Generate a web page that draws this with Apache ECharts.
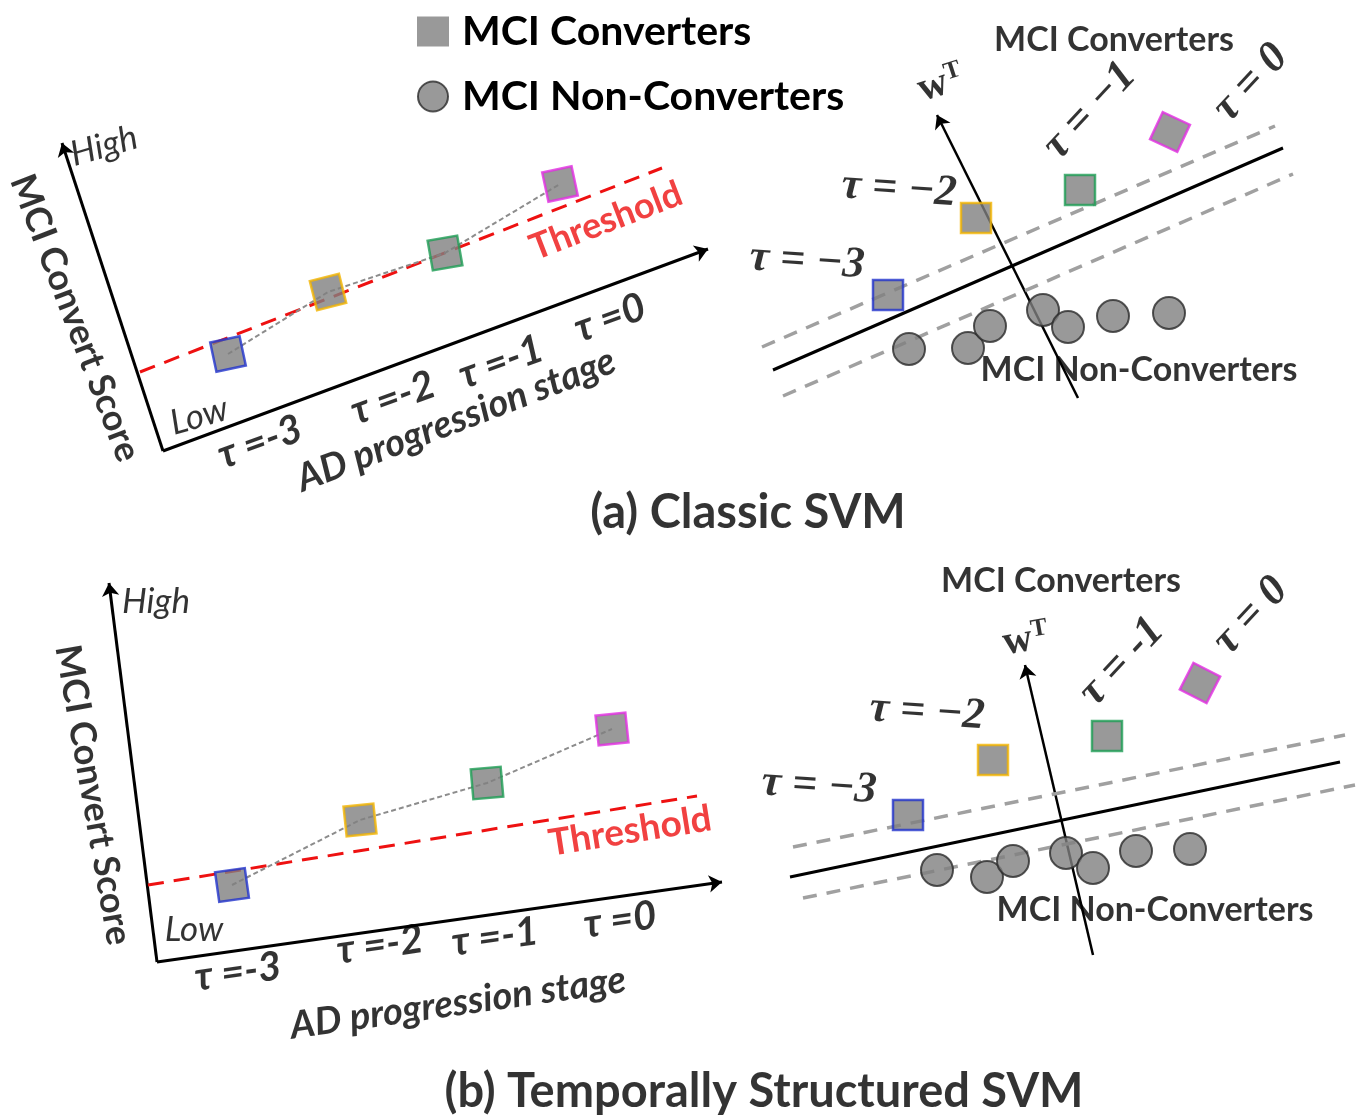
<!DOCTYPE html>
<html><head><meta charset="utf-8">
<script src="https://cdn.jsdelivr.net/npm/echarts@6/dist/echarts.min.js"></script>
<style>html,body{margin:0;padding:0;background:#fff}#c{width:1363px;height:1119px}</style>
</head><body><div id="c"></div>
<script>
// ---------- DATA (diagram units) ----------
const squareColors = ['#2233cc', '#f2b400', '#1e9e55', '#e22ee2'];
const stageLabels = ['τ =-3', 'τ =-2', 'τ =-1', 'τ =0'];
const svmTauA = ['τ = −3', 'τ = −2', 'τ = −1', 'τ = 0'];
const svmTauB = ['τ = −3', 'τ = −2', 'τ = -1', 'τ = 0'];

// (a) Classic SVM - score plot
const aYAxis = [[163, 451], [62, 143]];
const aXAxis = [[163, 451], [708, 249]];
const aThreshold = [[140, 372], [662, 168]];
const aScores = [[228, 354], [328, 292], [445, 253], [560, 184]];
const aStagePos = [[260, 442], [393, 398], [501, 362], [610, 318]];
// (a) Classic SVM - feature space
const aWAxis = [[1078, 398], [937, 115]];
const aHyper = [[773, 370], [1283, 148]];
const aMarginUp = [[762, 347], [1275, 126]];
const aMarginLow = [[783, 396], [1293, 174]];
const aConv = [[888, 295], [976, 218], [1080, 190], [1170, 132]];
const aNonConv = [[909, 349], [968, 348], [990, 326], [1043, 310], [1068, 327], [1113, 316], [1169, 313]];
const aTauPos = [[807, 262], [899, 190], [1090, 111], [1251, 83]];

// (b) Temporally Structured SVM - score plot
const bYAxis = [[157, 962], [109, 583]];
const bXAxis = [[157, 962], [722, 882]];
const bThreshold = [[148, 885], [697, 796]];
const bScores = [[232, 885], [360, 820], [487, 783], [612, 729]];
const bStagePos = [[238, 972], [380, 945], [495, 937], [620, 920]];
// (b) feature space
const bWAxis = [[1093, 955], [1025, 665]];
const bHyper = [[790, 877], [1340, 762]];
const bMarginUp = [[793, 847], [1345, 735]];
const bMarginLow = [[803, 898], [1355, 785]];
const bConv = [[908, 815], [993, 760], [1107, 736], [1200, 683]];
const bNonConv = [[937, 870], [987, 877], [1013, 861], [1066, 853], [1093, 868], [1136, 851], [1190, 849]];
const bTauPos = [[819, 787], [927, 713], [1122, 662], [1251, 616]];

// ---------- BUILD ----------
const SANS = 'Lato';
const SERIF = 'Liberation Serif';
const GRAY = '#7f7f7f';
const RED = '#ee1111';
const series = [];

function seg(coords, style, arrow) {
  series.push({
    type: 'lines', coordinateSystem: 'cartesian2d', silent: true, z: 2,
    data: [{ coords: coords }],
    lineStyle: Object.assign({ color: '#000', width: 3, opacity: 1 }, style),
    symbol: arrow ? ['none', 'arrow'] : ['none', 'none'],
    symbolSize: arrow ? 13 : 0
  });
}
function texts(items) {
  series.push({
    type: 'scatter', silent: true, z: 6, symbolSize: 1,
    itemStyle: { color: 'rgba(0,0,0,0)' },
    data: items.map(t => ({
      value: t.p,
      label: Object.assign({
        show: true, position: 'inside', formatter: t.s, color: '#000',
        fontFamily: SANS, fontSize: 32, fontWeight: 'bold', align: 'center', verticalAlign: 'middle'
      }, t.o || {})
    }))
  });
}
function squares(pts, size, rots) {
  series.push({
    name: 'MCI Converters', type: 'scatter', symbol: 'rect', symbolSize: size, z: 5,
    itemStyle: { color: GRAY },
    data: pts.map((p, i) => ({
      value: p, symbolRotate: rots[i],
      itemStyle: { borderColor: squareColors[i], borderWidth: 2.5 }
    }))
  });
}
function circles(pts) {
  series.push({
    name: 'MCI Non-Converters', type: 'scatter', symbol: 'circle', symbolSize: 32, z: 5,
    itemStyle: { color: GRAY, borderColor: '#2a2a2a', borderWidth: 2 },
    data: pts
  });
}
function trend(pts) {
  series.push({
    type: 'line', data: pts, symbol: 'none', silent: true, z: 4,
    lineStyle: { color: '#8c8c8c', width: 2, type: [5, 3] }
  });
}
const wLabel = (rot) => ({
  rotate: rot,
  rich: {
    w: { fontFamily: SERIF, fontWeight: 'bold', fontSize: 41, color: '#000' },
    t: { fontFamily: SERIF, fontWeight: 'bold', fontSize: 25, color: '#000', verticalAlign: 'top', padding: [0, 0, 17, 0] }
  }
});
const serifTau = (rot) => ({ fontFamily: SERIF, fontStyle: 'italic', fontWeight: 'bold', fontSize: 44, rotate: rot });

// panel a-left
seg(aYAxis, {}, true);
seg(aXAxis, {}, true);
seg(aThreshold, { color: RED, width: 3, type: [16, 10] });
trend(aScores);
squares(aScores, 30, [12, 14, 10, 12]);
texts([
  { p: [104, 146], s: 'High', o: { fontStyle: 'italic', fontWeight: 'normal', fontSize: 35, rotate: 16 } },
  { p: [199, 416], s: 'Low', o: { fontStyle: 'italic', fontWeight: 'normal', fontSize: 35, rotate: 16 } },
  { p: [75, 318], s: 'MCI Convert Score', o: { fontSize: 36, rotate: -69 } },
  { p: [456, 420], s: 'AD progression stage', o: { fontStyle: 'italic', fontSize: 38, rotate: 21 } },
  { p: [606, 221], s: 'Threshold', o: { color: RED, fontSize: 36, rotate: 21 } }
].concat(stageLabels.map((s, i) => ({ p: aStagePos[i], s: s, o: { fontStyle: 'italic', fontSize: 40, rotate: 20 } }))));

// panel a-right
seg(aWAxis, { width: 2.5 }, true);
seg(aHyper, { width: 3 });
seg(aMarginUp, { color: '#a0a0a0', width: 3.5, type: [14, 10] });
seg(aMarginLow, { color: '#a0a0a0', width: 3.5, type: [14, 10] });
squares(aConv, 30, [0, 0, 0, -25]);
circles(aNonConv);
texts([
  { p: [1114, 40], s: 'MCI Converters', o: { fontSize: 34 } },
  { p: [1139, 370], s: 'MCI Non-Converters', o: { fontSize: 34 } },
  { p: [941, 84], s: '{w|w}{t|T}', o: wLabel(18) }
].concat(svmTauA.map((s, i) => ({ p: aTauPos[i], s: s, o: serifTau(i < 2 ? -4 : 47) }))));

// panel b-left
seg(bYAxis, {}, true);
seg(bXAxis, {}, true);
seg(bThreshold, { color: RED, width: 3, type: [16, 10] });
trend(bScores);
squares(bScores, 30, [8, 6, 5, 6]);
texts([
  { p: [156, 602], s: 'High', o: { fontStyle: 'italic', fontWeight: 'normal', fontSize: 35 } },
  { p: [194, 930], s: 'Low', o: { fontStyle: 'italic', fontWeight: 'normal', fontSize: 35 } },
  { p: [93, 795], s: 'MCI Convert Score', o: { fontSize: 36, rotate: -80 } },
  { p: [458, 1003], s: 'AD progression stage', o: { fontStyle: 'italic', fontSize: 38, rotate: 8 } },
  { p: [630, 831], s: 'Threshold', o: { color: RED, fontSize: 37, rotate: 9 } }
].concat(stageLabels.map((s, i) => ({ p: bStagePos[i], s: s, o: { fontStyle: 'italic', fontSize: 40, rotate: 8 } }))));

// panel b-right
seg(bWAxis, { width: 2.5 }, true);
seg(bHyper, { width: 3 });
seg(bMarginUp, { color: '#a0a0a0', width: 3.5, type: [14, 10] });
seg(bMarginLow, { color: '#a0a0a0', width: 3.5, type: [14, 10] });
squares(bConv, 30, [0, 0, 0, -27]);
circles(bNonConv);
texts([
  { p: [1061, 581], s: 'MCI Converters', o: { fontSize: 34 } },
  { p: [1155, 910], s: 'MCI Non-Converters', o: { fontSize: 34 } },
  { p: [1026, 640], s: '{w|w}{t|T}', o: wLabel(10) }
].concat(svmTauB.map((s, i) => ({ p: bTauPos[i], s: s, o: serifTau(i < 2 ? -4 : 47) }))));

// captions
texts([
  { p: [748, 513], s: '(a) Classic SVM', o: { fontSize: 47 } },
  { p: [764, 1092], s: '(b) Temporally Structured SVM', o: { fontSize: 47 } }
]);

const chart = echarts.init(document.getElementById('c'), null, { renderer: 'canvas' });
chart.setOption({
  animation: false,
  backgroundColor: '#fff',
  grid: { left: 0, right: 0, top: 0, bottom: 0 },
  xAxis: { type: 'value', min: 0, max: 1363, show: false },
  yAxis: { type: 'value', min: 0, max: 1119, inverse: true, show: false },
  legend: {
    orient: 'vertical', left: 412, top: 6, itemGap: 24, itemWidth: 32, itemHeight: 30,
    textStyle: { fontFamily: SANS, fontWeight: 'bold', fontSize: 41, color: '#000', padding: [0, 0, 0, 8] },
    selectedMode: false,
    data: [
      { name: 'MCI Converters', icon: 'rect', itemStyle: { color: GRAY, borderWidth: 0 } },
      { name: 'MCI Non-Converters', icon: 'circle', itemStyle: { color: GRAY, borderColor: '#2a2a2a', borderWidth: 2 } }
    ]
  },
  series: series
});
</script></body></html>
